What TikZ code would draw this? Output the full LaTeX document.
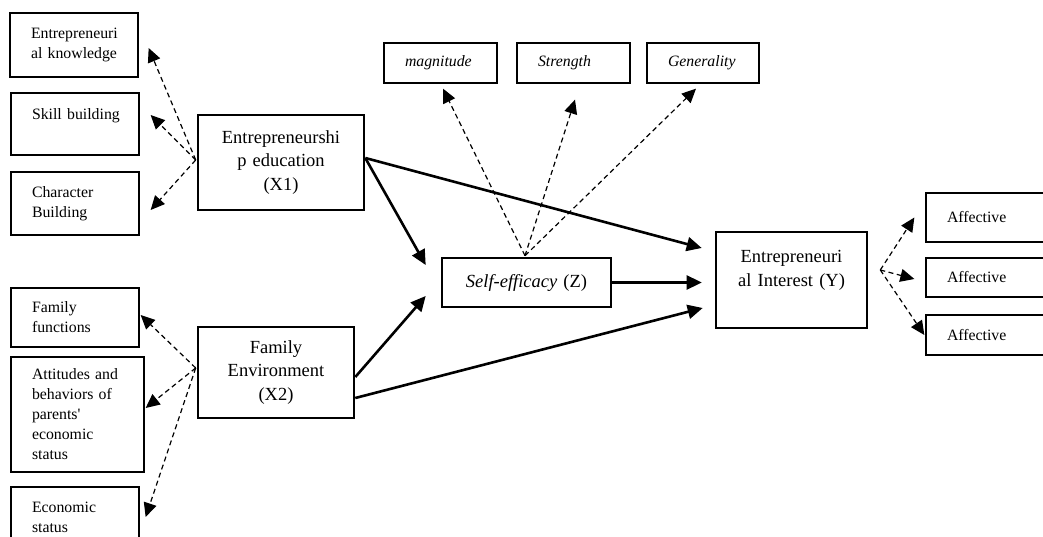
\documentclass[tikz,border=0pt]{standalone}
\usepackage{fontspec}
\setmainfont{Liberation Serif}[Ligatures=TeXOff]
\usetikzlibrary{arrows.meta}
\begin{document}
\hyphenpenalty=10000
\exhyphenpenalty=10000
\begin{tikzpicture}[x=1pt,y=-1pt,
  small/.style={draw, line width=1.3pt, font=\fontsize{15.8}{20}\selectfont, align=left, inner xsep=21pt, inner ysep=0pt},
  big/.style={draw, line width=2.6pt, font=\fontsize{18.5}{23.5}\selectfont, align=center, inner xsep=4pt, inner ysep=0pt},
  indarrow/.style={-{Triangle[length=14pt,width=13pt]}, line width=1.2pt, dash pattern=on 5pt off 3.5pt},
  patharrow/.style={-{Triangle[length=15pt,width=14pt]}, line width=2.6pt}]
\useasboundingbox (0,0) rectangle (1043,537);
\clip (0,0) rectangle (1043,537);
% left indicators
\node[small, minimum width=128pt, minimum height=64pt, text width=86pt] (ek) at (74,45) {Entrepreneuri\\al~knowledge};
\node[small, minimum width=128pt, minimum height=62pt, text width=86pt] (sb) at (75,124) {Skill~building\\\mbox{}};
\node[small, minimum width=128pt, minimum height=63pt, text width=86pt] (cb) at (75,203.5) {Character\\Building};
\node[small, minimum width=128pt, minimum height=59pt, text width=86pt] (ff) at (75,317.5) {Family\\functions};
\node[small, minimum width=133pt, minimum height=115pt, text width=91pt] (at) at (77.5,414.5) {Attitudes~and\\behaviors~of\\parents'\\economic\\status};
\node[small, minimum width=128pt, minimum height=60pt, text width=86pt] (es) at (75,517) {Economic\\status};
% top indicators
\node[small, minimum width=113pt, minimum height=40pt, text width=71pt] (mag) at (440.5,63) {\textit{magnitude}};
\node[small, minimum width=113pt, minimum height=40pt, text width=71pt] (str) at (573.5,63) {\textit{Strength}};
\node[small, minimum width=112pt, minimum height=40pt, text width=70pt] (gen) at (703,63) {\textit{Generality}};
% right indicators
\node[small, minimum width=128pt, minimum height=49pt, text width=86pt] (af1) at (990,217.5) {Affective};
\node[small, minimum width=128pt, minimum height=39pt, text width=86pt] (af2) at (990,277.5) {Affective};
\node[small, minimum width=128pt, minimum height=40pt, text width=86pt] (af3) at (990,335) {Affective};
% constructs
\node[big, minimum width=166pt, minimum height=95pt, text width=158pt] (x1) at (281,162.5) {Entrepreneurshi\\p education\\(X1)};
\node[big, minimum width=156pt, minimum height=91pt, text width=148pt] (x2) at (276,372.5) {Family\\Environment\\(X2)};
\node[big, minimum width=169pt, minimum height=49pt, text width=161pt] (se) at (526.5,282.5) {\textit{Self-efficacy} (Z)};
\node[big, minimum width=151pt, minimum height=96pt, text width=143pt] (y) at (791.5,280) {Entrepreneuri\\al Interest (Y)\\\mbox{}};
% dashed indicator arrows
\draw[indarrow] ([xshift=-1pt,yshift=2.5pt]x1.west) -- ([xshift=10pt,yshift=-3pt]ek.east);
\draw[indarrow] ([xshift=-1pt,yshift=2.5pt]x1.west) -- ([xshift=11pt,yshift=9pt]sb.east);
\draw[indarrow] ([xshift=-1pt,yshift=2.5pt]x1.west) -- ([xshift=11pt,yshift=-6.5pt]cb.east);
\draw[indarrow] ([xshift=-1pt,yshift=4.5pt]x2.west) -- ([xshift=1pt,yshift=2.5pt]ff.east);
\draw[indarrow] ([xshift=-1pt,yshift=4.5pt]x2.west) -- ([xshift=1pt,yshift=6.5pt]at.east);
\draw[indarrow] ([xshift=-1pt,yshift=4.5pt]x2.west) -- ([xshift=6pt]es.east);
\draw[indarrow] ([xshift=-1.5pt,yshift=1pt]se.north) -- ([xshift=2.5pt,yshift=-5pt]mag.south);
\draw[indarrow] ([xshift=-1.5pt,yshift=1pt]se.north) -- ([xshift=1.5pt,yshift=-16pt]str.south);
\draw[indarrow] ([xshift=-1.5pt,yshift=1pt]se.north) -- ([xshift=-7pt,yshift=-5pt]gen.south);
\draw[indarrow] ([xshift=12pt,yshift=10pt]y.east) -- ([xshift=-11pt]af1.west);
\draw[indarrow] ([xshift=12pt,yshift=10pt]y.east) -- ([xshift=-11pt,yshift=-1.5pt]af2.west);
\draw[indarrow] ([xshift=12pt,yshift=10pt]y.east) -- ([xshift=-1pt]af3.west);
% structural paths
\draw[patharrow] ([yshift=4.5pt]x1.east) -- ([xshift=-13pt,yshift=32pt]y.west);
\draw[patharrow] ([yshift=4.5pt]x1.east) -- ([xshift=-15pt,yshift=17.5pt]se.west);
\draw[patharrow] ([yshift=-4.5pt]x2.east) -- ([xshift=-15pt,yshift=-13.5pt]se.west);
\draw[patharrow] ([yshift=-25.5pt]x2.east) -- ([xshift=-12pt,yshift=-28pt]y.west);
\draw[patharrow] (se.east) -- ([xshift=-13pt,yshift=-2.5pt]y.west);
\end{tikzpicture}
\end{document}
